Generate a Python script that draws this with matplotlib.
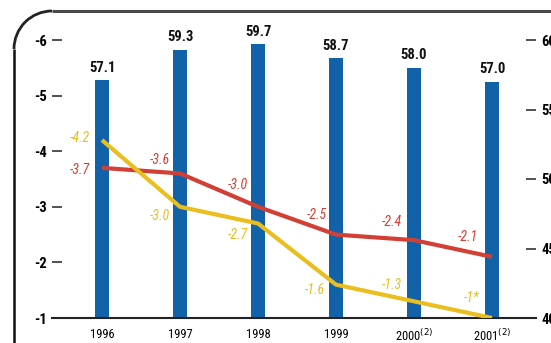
import matplotlib
matplotlib.use("Agg")
import matplotlib.pyplot as plt
from matplotlib import font_manager
from matplotlib.patches import Arc

# prefer a narrow sans face when one is installed
_fonts = font_manager.fontManager.ttflist
_names = {f.name for f in _fonts}
FAMILY = ["DejaVu Sans"]
STRETCH = "normal"
for cand in ("Liberation Sans Narrow", "Roboto Condensed", "Open Sans Condensed",
             "Noto Sans Condensed", "DejaVu Sans Condensed"):
    if cand in _names:
        FAMILY = [cand, "DejaVu Sans"]
        break
else:
    if any(f.name == "DejaVu Sans" and f.stretch == "condensed" for f in _fonts):
        STRETCH = "condensed"
plt.rcParams['font.family'] = FAMILY
plt.rcParams['font.stretch'] = STRETCH

years = ["1996", "1997", "1998", "1999", "2000$^{(2)}$", "2001$^{(2)}$"]
bar_values = [57.1, 59.3, 59.7, 58.7, 58.0, 57.0]
red_values = [-3.7, -3.6, -3.0, -2.5, -2.4, -2.1]
yellow_values = [-4.2, -3.0, -2.7, -1.6, -1.3, -1.0]
yellow_labels = ["-4.2", "-3.0", "-2.7", "-1.6", "-1.3", "-1*"]
left_ticks = [-6, -5, -4, -3, -2, -1]
right_ticks = [40, 45, 50, 55, 60]

BLUE = "#1262AA"
RED = "#D13F35"
YELLOW = "#E9BE1E"

W, H = 551, 343
fig = plt.figure(figsize=(W / 100, H / 100), dpi=100)

# frame with rounded top-left corner
frame = fig.add_axes([0, 0, 1, 1])
frame.set_xlim(0, W)
frame.set_ylim(H, 0)
frame.axis("off")
r = 38
x0, y0 = 14, 11
frame.plot([x0 + r, W + 5], [y0, y0], color="#4a4a4a", lw=2.2, solid_capstyle="butt")
frame.plot([x0, x0], [y0 + r, H + 5], color="#111111", lw=1.8, solid_capstyle="butt")
frame.add_patch(Arc((x0 + r, y0 + r), 2 * r, 2 * r, theta1=180, theta2=270,
                    color="#222222", lw=2.0))

# plotting area
left_px, right_px, top_px, bottom_px = 52, 536, 40, 318
ax = fig.add_axes([left_px / W, 1 - bottom_px / H,
                   (right_px - left_px) / W, (bottom_px - top_px) / H])
ax2 = ax.twinx()

x = list(range(len(years)))
xlim = (-50 / 78, 5 + 44 / 78)

# bars on the right scale
ax2.bar(x, bar_values, width=0.19, color=BLUE, zorder=2)
ax2.set_ylim(40, 60)
ax2.set_xlim(*xlim)
for xi, v in zip(x, bar_values):
    ax2.annotate(f"{v:.1f}", (xi, v), xytext=(0, 4), textcoords="offset points",
                 ha="center", va="bottom", fontsize=10.5, fontweight="bold",
                 color="#111111")

# lines on the left scale
ax.set_zorder(ax2.get_zorder() + 1)
ax.patch.set_visible(False)
ax.plot(x, red_values, color=RED, lw=3, solid_capstyle="butt", zorder=3)
ax.plot(x, yellow_values, color=YELLOW, lw=3, solid_capstyle="butt", zorder=3)
ax.set_ylim(-1, -6)
ax.set_xlim(*xlim)

red_offsets = [(-22, -2), (-20, 13), (-20, 22), (-19, 20), (-22, 18), (-24, 20)]
yellow_offsets = [(-22, 2), (-20, -9), (-20, -12), (-21, -5), (-22, 16), (-20, 20)]
for xi, v, off in zip(x, red_values, red_offsets):
    ax.annotate(f"{v:.1f}", (xi, v), xytext=off, textcoords="offset pixels",
                ha="center", va="center", fontsize=10, style="italic", color=RED)
for xi, v, lab, off in zip(x, yellow_values, yellow_labels, yellow_offsets):
    ax.annotate(lab, (xi, v), xytext=off, textcoords="offset pixels",
                ha="center", va="center", fontsize=10, style="italic", color=YELLOW)

# axes styling
for a in (ax, ax2):
    for s in ("top", "left", "right"):
        a.spines[s].set_visible(False)
ax2.spines["bottom"].set_visible(False)
ax.spines["bottom"].set_color("#222222")
ax.spines["bottom"].set_linewidth(1.5)

ax.set_yticks(left_ticks)
ax.set_yticklabels([str(t) for t in left_ticks], fontsize=10.5, fontweight="bold")
ax.tick_params(axis="y", direction="in", length=7, width=1.2, color="#333333", pad=4)
ax2.set_yticks(right_ticks)
ax2.set_yticklabels([str(t) for t in right_ticks], fontsize=10.5, fontweight="bold")
ax2.tick_params(axis="y", direction="in", length=7, width=1.2, color="#333333", pad=4)

ax.set_xticks(x)
ax.set_xticklabels(years, fontsize=9)
ax.tick_params(axis="x", length=0, pad=7)
ax2.tick_params(axis="x", length=0, labelbottom=False)

fig.savefig("out.png", dpi=100)
